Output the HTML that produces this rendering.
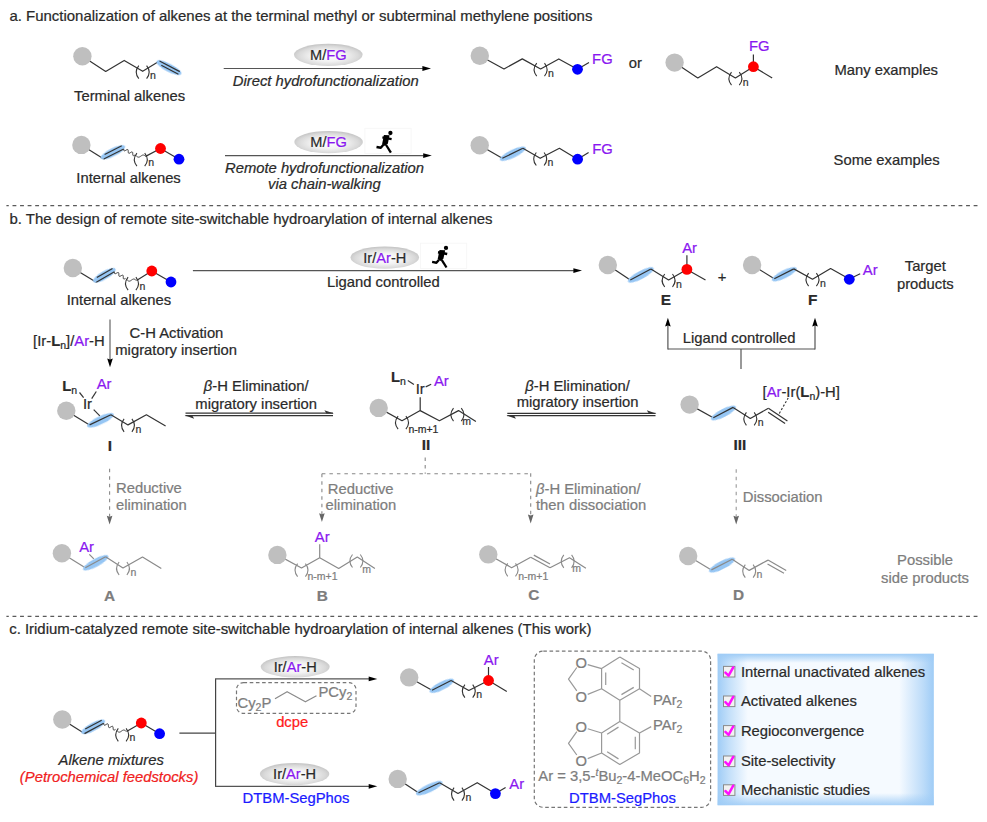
<!DOCTYPE html>
<html><head><meta charset="utf-8"><style>
html,body{margin:0;padding:0;background:#fff;}
svg{display:block;font-family:"Liberation Sans",sans-serif;}
text{stroke-width:0.22px;}
</style></head><body>
<svg width="987" height="822" viewBox="0 0 987 822">
<defs>
<radialGradient id="eg" cx="0.5" cy="0.55" r="0.55">
<stop offset="0" stop-color="#ffffff"/><stop offset="0.45" stop-color="#f2f2f2"/><stop offset="0.8" stop-color="#d9d9d9"/><stop offset="1" stop-color="#c2c2c2"/>
</radialGradient>
<linearGradient id="bgh" x1="0" y1="0" x2="1" y2="0">
<stop offset="0" stop-color="#9fccf6" stop-opacity="1"/><stop offset="0.05" stop-color="#9fccf6" stop-opacity="0.6"/><stop offset="0.14" stop-color="#9fccf6" stop-opacity="0"/>
<stop offset="0.84" stop-color="#9fccf6" stop-opacity="0"/><stop offset="0.95" stop-color="#9fccf6" stop-opacity="0.65"/><stop offset="1" stop-color="#9fccf6" stop-opacity="1"/>
</linearGradient>
<linearGradient id="bgv" x1="0" y1="0" x2="0" y2="1">
<stop offset="0" stop-color="#9fccf6" stop-opacity="1"/><stop offset="0.06" stop-color="#9fccf6" stop-opacity="0"/>
<stop offset="0.92" stop-color="#9fccf6" stop-opacity="0"/><stop offset="1" stop-color="#9fccf6" stop-opacity="0.9"/>
</linearGradient>
<filter id="blur" x="-20%" y="-50%" width="140%" height="200%"><feGaussianBlur stdDeviation="0.7"/></filter>
</defs>
<text x="9.5" y="20.9" font-size="14.95" fill="#2a2a2a" stroke="#2a2a2a">a. Functionalization of alkenes at the terminal methyl or subterminal methylene positions</text>
<polyline points="82.4,56.3 105.7,71.5 124.2,60.4 142.7,71.3 159.5,61" fill="none" stroke="#333" stroke-width="1.2" stroke-linejoin="round" stroke-linecap="butt"/>
<path d="M138.8 65.6 Q133.6 72.1 138.8 78.6" fill="none" stroke="#333" stroke-width="1.1"/>
<path d="M146.6 65.6 Q151.8 72.1 146.6 78.6" fill="none" stroke="#333" stroke-width="1.1"/>
<text x="150.1" y="79.3" font-size="10.5" fill="#333" stroke="#333">n</text>
<ellipse cx="168.96" cy="67.63" rx="13.85" ry="4" fill="#96c6f4" transform="rotate(27.57 168.96 67.63)" filter="url(#blur)"/>
<polyline points="159.5,61 179.8,71.6" fill="none" stroke="#333" stroke-width="1.2" stroke-linejoin="round" stroke-linecap="butt"/>
<polyline points="161.3,65.33 178.41,74.26" fill="none" stroke="#333" stroke-width="1.2" stroke-linejoin="round" stroke-linecap="butt"/>
<text x="74" y="100.7" font-size="14.8" fill="#2a2a2a" stroke="#2a2a2a">Terminal alkenes</text>
<ellipse cx="328.3" cy="54.8" rx="34.3" ry="11.1" fill="url(#eg)"/>
<text x="328.3" y="59.7" font-size="14.6" fill="#2a2a2a" stroke="#2a2a2a" text-anchor="middle">M/<tspan fill="#8a17f0" stroke="#8a17f0">FG</tspan></text>
<polyline points="223.7,68.5 422.9,68.5" fill="none" stroke="#555" stroke-width="1.2" stroke-linejoin="round" stroke-linecap="butt"/>
<path d="M431 68.5 L422.4 66.1 L422.4 70.9 Z" fill="#000"/>
<text x="325.7" y="86.1" font-size="14.8" fill="#2a2a2a" stroke="#2a2a2a" text-anchor="middle" font-style="italic">Direct hydrofunctionalization</text>
<polyline points="479.8,55.8 504,69 522.3,58.9 540.6,69 558.8,58.9 577.5,69.3 589,62.6" fill="none" stroke="#333" stroke-width="1.2" stroke-linejoin="round" stroke-linecap="butt"/>
<path d="M536.7 63.2 Q531.5 69.7 536.7 76.2" fill="none" stroke="#333" stroke-width="1.1"/>
<path d="M544.5 63.2 Q549.7 69.7 544.5 76.2" fill="none" stroke="#333" stroke-width="1.1"/>
<text x="548" y="76.9" font-size="10.5" fill="#333" stroke="#333">n</text>
<text x="592.1" y="64.3" font-size="14.8" fill="#8a17f0" stroke="#8a17f0">FG</text>
<text x="628.8" y="67.5" font-size="14.8" fill="#2a2a2a" stroke="#2a2a2a">or</text>
<polyline points="674.6,62.6 697.8,77.9 716.6,66.7 735.4,77.9 753.4,66.7 772.2,77.9" fill="none" stroke="#333" stroke-width="1.2" stroke-linejoin="round" stroke-linecap="butt"/>
<polyline points="753.4,66.7 753.4,54.5" fill="none" stroke="#333" stroke-width="1.2" stroke-linejoin="round" stroke-linecap="butt"/>
<path d="M731.5 72.1 Q726.3 78.6 731.5 85.1" fill="none" stroke="#333" stroke-width="1.1"/>
<path d="M739.3 72.1 Q744.5 78.6 739.3 85.1" fill="none" stroke="#333" stroke-width="1.1"/>
<text x="742.8" y="85.8" font-size="10.5" fill="#333" stroke="#333">n</text>
<text x="749" y="50.6" font-size="14.8" fill="#8a17f0" stroke="#8a17f0">FG</text>
<text x="834.4" y="75" font-size="14.8" fill="#2a2a2a" stroke="#2a2a2a">Many examples</text>
<polyline points="81.4,144.9 103.8,159" fill="none" stroke="#333" stroke-width="1.2" stroke-linejoin="round" stroke-linecap="butt"/>
<ellipse cx="112.92" cy="152.35" rx="13.54" ry="4" fill="#96c6f4" transform="rotate(-26.68 112.92 152.35)" filter="url(#blur)"/>
<polyline points="103.8,159 123.7,149" fill="none" stroke="#333" stroke-width="1.2" stroke-linejoin="round" stroke-linecap="butt"/>
<polyline points="104.64,154.44 121.77,145.83" fill="none" stroke="#333" stroke-width="1.2" stroke-linejoin="round" stroke-linecap="butt"/>
<polyline points="123.7,149 123.73,149.62 123.8,150.17 123.94,150.59 124.17,150.84 124.51,150.89 124.93,150.77 125.43,150.52 125.96,150.2 126.49,149.88 126.99,149.63 127.41,149.51 127.75,149.56 127.98,149.81 128.12,150.23 128.19,150.78 128.22,151.4 128.25,152.02 128.32,152.57 128.46,152.99 128.69,153.24 129.03,153.29 129.45,153.17 129.95,152.92 130.48,152.6 131.01,152.28 131.51,152.03 131.93,151.91 132.27,151.96 132.5,152.21 132.64,152.63 132.71,153.18 132.74,153.8 132.77,154.42 132.84,154.97 132.98,155.39 133.21,155.64 133.55,155.69 133.97,155.57 134.47,155.32 135,155" fill="none" stroke="#333" stroke-width="1"/>
<polyline points="136.2,155.8 136.42,156 136.65,156.2 136.87,156.39 137.1,156.56 137.32,156.72 137.55,156.86 137.78,156.97 138.01,157.06 138.24,157.12 138.47,157.15 138.71,157.15 138.95,157.12 139.19,157.06 139.43,156.98 139.67,156.87 139.92,156.74 140.16,156.6 140.41,156.44 140.65,156.27 140.9,156.1 141.15,155.93 141.39,155.76 141.64,155.6 141.88,155.46 142.13,155.33 142.37,155.22 142.61,155.14 142.85,155.08 143.09,155.05 143.33,155.05 143.56,155.08 143.79,155.14 144.02,155.23 144.25,155.34 144.48,155.48 144.7,155.64 144.93,155.81 145.15,156 145.38,156.2 145.6,156.4" fill="none" stroke="#333" stroke-width="1"/>
<polyline points="145.6,156.4 160.5,148.5 179,159.2" fill="none" stroke="#333" stroke-width="1.2" stroke-linejoin="round" stroke-linecap="butt"/>
<path d="M136.9 153.2 Q131.7 159.7 136.9 166.2" fill="none" stroke="#333" stroke-width="1.1"/>
<path d="M144.7 153.2 Q149.9 159.7 144.7 166.2" fill="none" stroke="#333" stroke-width="1.1"/>
<text x="148.3" y="166.4" font-size="10.5" fill="#333" stroke="#333">n</text>
<text x="76.3" y="182.6" font-size="14.8" fill="#2a2a2a" stroke="#2a2a2a">Internal alkenes</text>
<ellipse cx="328.6" cy="142.1" rx="34.3" ry="11.1" fill="url(#eg)"/>
<text x="328.6" y="147" font-size="14.6" fill="#2a2a2a" stroke="#2a2a2a" text-anchor="middle">M/<tspan fill="#8a17f0" stroke="#8a17f0">FG</tspan></text>
<rect x="364.9" y="128.3" width="46.2" height="25.2" fill="none" stroke="#f6f6f6" stroke-width="0.8"/>
<circle cx="390.4" cy="133" r="2.15" fill="#000"/>
<path d="M383.9 135.0 L389.59999999999997 135.3 L387.79999999999995 143.8 L385.0 146.0 L382.09999999999997 144.2 Z" fill="#000"/>
<polyline points="382.4,137.4 391.6,139.1" fill="none" stroke="#000" stroke-width="2.4" stroke-linejoin="round" stroke-linecap="butt" stroke-linecap="round"/>
<polyline points="383.4,144.8 380.8,147.8 376.5,147" fill="none" stroke="#000" stroke-width="2.4" stroke-linejoin="round" stroke-linecap="butt" stroke-linecap="round" stroke-linejoin="round"/>
<polyline points="386.1,145 390.9,152.6" fill="none" stroke="#000" stroke-width="2.3" stroke-linejoin="round" stroke-linecap="butt" stroke-linecap="round"/>
<polyline points="225,155.6 423.7,155.6" fill="none" stroke="#555" stroke-width="1.2" stroke-linejoin="round" stroke-linecap="butt"/>
<path d="M431.8 155.6 L423.2 153.2 L423.2 158 Z" fill="#000"/>
<text x="324.5" y="172.6" font-size="14.8" fill="#2a2a2a" stroke="#2a2a2a" text-anchor="middle" font-style="italic">Remote hydrofunctionalization</text>
<text x="324.4" y="188.6" font-size="14.8" fill="#2a2a2a" stroke="#2a2a2a" text-anchor="middle" font-style="italic">via chain-walking</text>
<polyline points="479.7,145.2 502.3,158.3" fill="none" stroke="#333" stroke-width="1.2" stroke-linejoin="round" stroke-linecap="butt"/>
<ellipse cx="512.82" cy="153.75" rx="14.25" ry="4" fill="#96c6f4" transform="rotate(-25.89 512.82 153.75)" filter="url(#blur)"/>
<polyline points="502.3,158.3 522.9,148.3" fill="none" stroke="#333" stroke-width="1.2" stroke-linejoin="round" stroke-linecap="butt"/>
<polyline points="522.9,148.3 540.2,158.3 559.4,148.3 577.6,159.2 588.6,152.5" fill="none" stroke="#333" stroke-width="1.2" stroke-linejoin="round" stroke-linecap="butt"/>
<path d="M536.3 152.5 Q531.1 159 536.3 165.5" fill="none" stroke="#333" stroke-width="1.1"/>
<path d="M544.1 152.5 Q549.3 159 544.1 165.5" fill="none" stroke="#333" stroke-width="1.1"/>
<text x="547.6" y="166.2" font-size="10.5" fill="#333" stroke="#333">n</text>
<text x="592.2" y="153.9" font-size="14.8" fill="#8a17f0" stroke="#8a17f0">FG</text>
<text x="833.6" y="165" font-size="14.8" fill="#2a2a2a" stroke="#2a2a2a">Some examples</text>
<line x1="6.4" y1="205.6" x2="977.6" y2="205.6" stroke="#5a5a5a" stroke-width="1.3" stroke-dasharray="3.85 3.718" stroke-dashoffset="1.47"/>
<text x="9.5" y="223.5" font-size="14.95" fill="#2a2a2a" stroke="#2a2a2a">b. The design of remote site-switchable hydroarylation of internal alkenes</text>
<polyline points="72.8,268 96.3,282.2" fill="none" stroke="#333" stroke-width="1.2" stroke-linejoin="round" stroke-linecap="butt"/>
<ellipse cx="104.4" cy="275.35" rx="12.84" ry="4" fill="#96c6f4" transform="rotate(-29.88 104.4 275.35)" filter="url(#blur)"/>
<polyline points="96.3,282.2 114.4,271.8" fill="none" stroke="#333" stroke-width="1.2" stroke-linejoin="round" stroke-linecap="butt"/>
<polyline points="96.83,277.51 112.51,268.51" fill="none" stroke="#333" stroke-width="1.2" stroke-linejoin="round" stroke-linecap="butt"/>
<polyline points="114.4,271.8 114.4,272.43 114.45,272.98 114.57,273.41 114.79,273.66 115.13,273.74 115.56,273.64 116.07,273.42 116.62,273.12 117.17,272.82 117.68,272.6 118.11,272.5 118.45,272.58 118.67,272.83 118.79,273.26 118.84,273.81 118.84,274.44 118.84,275.07 118.89,275.62 119.01,276.05 119.23,276.3 119.57,276.38 120,276.28 120.51,276.06 121.06,275.76 121.61,275.46 122.12,275.24 122.55,275.14 122.89,275.22 123.11,275.47 123.23,275.9 123.28,276.45 123.28,277.08 123.28,277.71 123.33,278.26 123.45,278.69 123.67,278.94 124.01,279.02 124.44,278.92 124.95,278.7 125.5,278.4" fill="none" stroke="#333" stroke-width="1"/>
<polyline points="127,279.8 127.21,280 127.43,280.2 127.64,280.39 127.85,280.56 128.07,280.72 128.29,280.86 128.5,280.97 128.72,281.06 128.95,281.12 129.17,281.15 129.4,281.15 129.62,281.12 129.85,281.06 130.09,280.98 130.32,280.87 130.55,280.74 130.79,280.6 131.03,280.44 131.26,280.27 131.5,280.1 131.74,279.93 131.97,279.76 132.21,279.6 132.45,279.46 132.68,279.33 132.91,279.22 133.15,279.14 133.38,279.08 133.6,279.05 133.83,279.05 134.05,279.08 134.28,279.14 134.5,279.23 134.71,279.34 134.93,279.48 135.15,279.64 135.36,279.81 135.57,280 135.79,280.2 136,280.4" fill="none" stroke="#333" stroke-width="1"/>
<polyline points="136.5,280.4 151.8,271 171,282" fill="none" stroke="#333" stroke-width="1.2" stroke-linejoin="round" stroke-linecap="butt"/>
<path d="M128.1 277.1 Q122.9 283.6 128.1 290.1" fill="none" stroke="#333" stroke-width="1.1"/>
<path d="M135.9 277.1 Q141.1 283.6 135.9 290.1" fill="none" stroke="#333" stroke-width="1.1"/>
<text x="139.5" y="290" font-size="10.5" fill="#333" stroke="#333">n</text>
<text x="66.7" y="305" font-size="14.8" fill="#2a2a2a" stroke="#2a2a2a">Internal alkenes</text>
<ellipse cx="384.8" cy="257.6" rx="34.3" ry="11.1" fill="url(#eg)"/>
<text x="384.8" y="262.5" font-size="14.6" fill="#2a2a2a" stroke="#2a2a2a" text-anchor="middle">Ir/<tspan fill="#8a17f0" stroke="#8a17f0">Ar</tspan>-H</text>
<rect x="420.5" y="243.2" width="46.2" height="25.2" fill="none" stroke="#f6f6f6" stroke-width="0.8"/>
<circle cx="446" cy="247.9" r="2.15" fill="#000"/>
<path d="M439.5 249.9 L445.2 250.20000000000002 L443.4 258.7 L440.6 260.9 L437.7 259.1 Z" fill="#000"/>
<polyline points="438,252.3 447.2,254" fill="none" stroke="#000" stroke-width="2.4" stroke-linejoin="round" stroke-linecap="butt" stroke-linecap="round"/>
<polyline points="439,259.7 436.4,262.7 432.1,261.9" fill="none" stroke="#000" stroke-width="2.4" stroke-linejoin="round" stroke-linecap="butt" stroke-linecap="round" stroke-linejoin="round"/>
<polyline points="441.7,259.9 446.5,267.5" fill="none" stroke="#000" stroke-width="2.3" stroke-linejoin="round" stroke-linecap="butt" stroke-linecap="round"/>
<polyline points="192.9,270.6 573.9,270.6" fill="none" stroke="#555" stroke-width="1.2" stroke-linejoin="round" stroke-linecap="butt"/>
<path d="M582 270.6 L573.4 268.2 L573.4 273 Z" fill="#000"/>
<text x="383.4" y="286.8" font-size="14.8" fill="#2a2a2a" stroke="#2a2a2a" text-anchor="middle">Ligand controlled</text>
<polyline points="607.8,265 630.3,280" fill="none" stroke="#333" stroke-width="1.2" stroke-linejoin="round" stroke-linecap="butt"/>
<ellipse cx="640.84" cy="274.94" rx="14.48" ry="4" fill="#96c6f4" transform="rotate(-28.1 640.84 274.94)" filter="url(#blur)"/>
<polyline points="630.3,280 650.9,269" fill="none" stroke="#333" stroke-width="1.2" stroke-linejoin="round" stroke-linecap="butt"/>
<polyline points="650.9,269 668.6,280 686.9,269.4 705.5,280" fill="none" stroke="#333" stroke-width="1.2" stroke-linejoin="round" stroke-linecap="butt"/>
<polyline points="686.9,269.4 686.9,255.3" fill="none" stroke="#333" stroke-width="1.2" stroke-linejoin="round" stroke-linecap="butt"/>
<path d="M664.7 274 Q659.5 280.5 664.7 287" fill="none" stroke="#333" stroke-width="1.1"/>
<path d="M672.5 274 Q677.7 280.5 672.5 287" fill="none" stroke="#333" stroke-width="1.1"/>
<text x="676" y="287.7" font-size="10.5" fill="#333" stroke="#333">n</text>
<text x="682.2" y="252.8" font-size="14.8" fill="#8a17f0" stroke="#8a17f0">Ar</text>
<text x="722" y="281.5" font-size="14.8" fill="#2a2a2a" stroke="#2a2a2a" text-anchor="middle">+</text>
<text x="666" y="305" font-size="15.4" fill="#2a2a2a" stroke="#2a2a2a" text-anchor="middle" font-weight="bold">E</text>
<polyline points="752.1,265 774.3,278.7" fill="none" stroke="#333" stroke-width="1.2" stroke-linejoin="round" stroke-linecap="butt"/>
<ellipse cx="784.27" cy="274.25" rx="13.71" ry="4" fill="#96c6f4" transform="rotate(-26.68 784.27 274.25)" filter="url(#blur)"/>
<polyline points="774.3,278.7 793.8,268.9" fill="none" stroke="#333" stroke-width="1.2" stroke-linejoin="round" stroke-linecap="butt"/>
<polyline points="793.8,268.9 812.5,279.2 830.6,268.6 849.3,279 860.2,273.8" fill="none" stroke="#333" stroke-width="1.2" stroke-linejoin="round" stroke-linecap="butt"/>
<path d="M808.6 273.2 Q803.4 279.7 808.6 286.2" fill="none" stroke="#333" stroke-width="1.1"/>
<path d="M816.4 273.2 Q821.6 279.7 816.4 286.2" fill="none" stroke="#333" stroke-width="1.1"/>
<text x="819.9" y="286.9" font-size="10.5" fill="#333" stroke="#333">n</text>
<text x="862.8" y="275" font-size="14.8" fill="#8a17f0" stroke="#8a17f0">Ar</text>
<text x="812.8" y="305.3" font-size="15.4" fill="#2a2a2a" stroke="#2a2a2a" text-anchor="middle" font-weight="bold">F</text>
<text x="925.3" y="271" font-size="14.8" fill="#2a2a2a" stroke="#2a2a2a" text-anchor="middle">Target</text>
<text x="925.3" y="288.6" font-size="14.8" fill="#2a2a2a" stroke="#2a2a2a" text-anchor="middle">products</text>
<polyline points="667.9,349 815,349" fill="none" stroke="#555" stroke-width="1.2" stroke-linejoin="round" stroke-linecap="butt"/>
<polyline points="741,349 741,369" fill="none" stroke="#555" stroke-width="1.2" stroke-linejoin="round" stroke-linecap="butt"/>
<polyline points="667.9,349.6 667.9,325.6" fill="none" stroke="#555" stroke-width="1.2" stroke-linejoin="round" stroke-linecap="butt"/>
<path d="M667.9 317.8 L665.1 326.6 L667.9 325.6 L670.7 326.6 Z" fill="#000"/>
<polyline points="815,349.6 815,325.6" fill="none" stroke="#555" stroke-width="1.2" stroke-linejoin="round" stroke-linecap="butt"/>
<path d="M815 317.8 L812.2 326.6 L815 325.6 L817.8 326.6 Z" fill="#000"/>
<text x="739.2" y="343.4" font-size="14.8" fill="#2a2a2a" stroke="#2a2a2a" text-anchor="middle">Ligand controlled</text>
<polyline points="110,319.6 110,359.4" fill="none" stroke="#666" stroke-width="1.2" stroke-linejoin="round" stroke-linecap="butt"/>
<path d="M110 367.2 L107.2 358.4 L110 359.4 L112.8 358.4 Z" fill="#000"/>
<text x="104.7" y="346.1" font-size="14.8" fill="#2a2a2a" stroke="#2a2a2a" text-anchor="end">[Ir-<tspan font-weight="bold">L</tspan><tspan font-size="10.5" baseline-shift="-3.2">n</tspan>]/<tspan fill="#8a17f0" stroke="#8a17f0">Ar</tspan>-H</text>
<text x="129.6" y="338.4" font-size="14.8" fill="#2a2a2a" stroke="#2a2a2a">C-H Activation</text>
<text x="115.3" y="355.3" font-size="14.8" fill="#2a2a2a" stroke="#2a2a2a">migratory insertion</text>
<polyline points="66.3,410.7 89.6,424.9" fill="none" stroke="#333" stroke-width="1.2" stroke-linejoin="round" stroke-linecap="butt"/>
<ellipse cx="100.46" cy="420.3" rx="14.59" ry="4" fill="#96c6f4" transform="rotate(-25.37 100.46 420.3)" filter="url(#blur)"/>
<polyline points="89.6,424.9 110.9,414.8" fill="none" stroke="#333" stroke-width="1.2" stroke-linejoin="round" stroke-linecap="butt"/>
<polyline points="110.9,414.8 128,424.9 146.4,414.8 165.6,425.9" fill="none" stroke="#333" stroke-width="1.2" stroke-linejoin="round" stroke-linecap="butt"/>
<path d="M124.1 418.9 Q118.9 425.4 124.1 431.9" fill="none" stroke="#333" stroke-width="1.1"/>
<path d="M131.9 418.9 Q137.1 425.4 131.9 431.9" fill="none" stroke="#333" stroke-width="1.1"/>
<text x="135.4" y="432.6" font-size="10.5" fill="#333" stroke="#333">n</text>
<polyline points="93.7,409.7 99.8,415.8" fill="none" stroke="#333" stroke-width="1.2" stroke-linejoin="round" stroke-linecap="butt"/>
<polyline points="79.5,392.5 83.6,397.6" fill="none" stroke="#333" stroke-width="1.2" stroke-linejoin="round" stroke-linecap="butt"/>
<polyline points="96.3,391.5 91.7,398.6" fill="none" stroke="#333" stroke-width="1.2" stroke-linejoin="round" stroke-linecap="butt"/>
<text x="83" y="408.7" font-size="14.8" fill="#2a2a2a" stroke="#2a2a2a">Ir</text>
<text x="62.3" y="390.5" font-size="14.8" fill="#2a2a2a" stroke="#2a2a2a"><tspan font-weight="bold">L</tspan><tspan font-size="10.5" baseline-shift="-3.2">n</tspan></text>
<text x="96.7" y="389.4" font-size="14.8" fill="#8a17f0" stroke="#8a17f0">Ar</text>
<text x="109.9" y="450.6" font-size="15.4" fill="#2a2a2a" stroke="#2a2a2a" text-anchor="middle" font-weight="bold">I</text>
<polyline points="185.5,413.2 333,413.2" fill="none" stroke="#333" stroke-width="1.2" stroke-linejoin="round" stroke-linecap="butt"/>
<path d="M334 413.6 L324.4 410.2 L326.4 413.6 Z" fill="#333"/>
<polyline points="185.5,415.7 333,415.7" fill="none" stroke="#333" stroke-width="1.2" stroke-linejoin="round" stroke-linecap="butt"/>
<path d="M184.5 415.3 L194.1 418.7 L192.1 415.3 Z" fill="#333"/>
<text x="256.2" y="391.1" font-size="14.8" fill="#2a2a2a" stroke="#2a2a2a" text-anchor="middle"><tspan font-style="italic">&#946;</tspan>-H Elimination/</text>
<text x="256.2" y="408.5" font-size="14.8" fill="#2a2a2a" stroke="#2a2a2a" text-anchor="middle">migratory insertion</text>
<polyline points="378.7,407.9 402,420.7 420.2,410.6 439.4,420.7 458.5,410.6 475.9,421.6" fill="none" stroke="#333" stroke-width="1.2" stroke-linejoin="round" stroke-linecap="butt"/>
<path d="M398.1 416.2 Q392.9 422.7 398.1 429.2" fill="none" stroke="#333" stroke-width="1.1"/>
<path d="M405.9 416.2 Q411.1 422.7 405.9 429.2" fill="none" stroke="#333" stroke-width="1.1"/>
<text x="408.4" y="433.2" font-size="10.5" fill="#2a2a2a" stroke="#2a2a2a">n-m+1</text>
<path d="M453.5 408.2 Q448.3 414.7 453.5 421.2" fill="none" stroke="#333" stroke-width="1.1"/>
<path d="M461.3 408.2 Q466.5 414.7 461.3 421.2" fill="none" stroke="#333" stroke-width="1.1"/>
<text x="462.3" y="425.3" font-size="10.5" fill="#333" stroke="#333">m</text>
<polyline points="420.2,410.6 420.2,397.3" fill="none" stroke="#333" stroke-width="1.2" stroke-linejoin="round" stroke-linecap="butt"/>
<text x="420.2" y="394.2" font-size="14.8" fill="#2a2a2a" stroke="#2a2a2a" text-anchor="middle">Ir</text>
<text x="391" y="382.4" font-size="14.8" fill="#2a2a2a" stroke="#2a2a2a"><tspan font-weight="bold">L</tspan><tspan font-size="10.5" baseline-shift="-3.2">n</tspan></text>
<text x="433.9" y="386" font-size="14.8" fill="#8a17f0" stroke="#8a17f0">Ar</text>
<polyline points="407.8,380.5 413.9,384.5" fill="none" stroke="#333" stroke-width="1.2" stroke-linejoin="round" stroke-linecap="butt"/>
<polyline points="425.7,386.9 431.2,384.2" fill="none" stroke="#333" stroke-width="1.2" stroke-linejoin="round" stroke-linecap="butt"/>
<text x="426.1" y="450.3" font-size="15.4" fill="#2a2a2a" stroke="#2a2a2a" text-anchor="middle" font-weight="bold">II</text>
<polyline points="507.3,413.3 655.5,413.3" fill="none" stroke="#333" stroke-width="1.2" stroke-linejoin="round" stroke-linecap="butt"/>
<path d="M656.5 413.7 L646.9 410.3 L648.9 413.7 Z" fill="#333"/>
<polyline points="507.3,415.7 655.5,415.7" fill="none" stroke="#333" stroke-width="1.2" stroke-linejoin="round" stroke-linecap="butt"/>
<path d="M506.3 415.3 L515.9 418.7 L513.9 415.3 Z" fill="#333"/>
<text x="577.6" y="390.5" font-size="14.8" fill="#2a2a2a" stroke="#2a2a2a" text-anchor="middle"><tspan font-style="italic">&#946;</tspan>-H Elimination/</text>
<text x="577.6" y="407" font-size="14.8" fill="#2a2a2a" stroke="#2a2a2a" text-anchor="middle">migratory insertion</text>
<polyline points="689.6,404.6 713.3,417.7" fill="none" stroke="#333" stroke-width="1.2" stroke-linejoin="round" stroke-linecap="butt"/>
<ellipse cx="723.43" cy="412.99" rx="13.96" ry="4" fill="#96c6f4" transform="rotate(-27.48 723.43 412.99)" filter="url(#blur)"/>
<polyline points="713.3,417.7 733.1,407.4" fill="none" stroke="#333" stroke-width="1.2" stroke-linejoin="round" stroke-linecap="butt"/>
<polyline points="733.1,407.4 750.3,418.4 768.4,408.3" fill="none" stroke="#333" stroke-width="1.2" stroke-linejoin="round" stroke-linecap="butt"/>
<path d="M746.4 412.4 Q741.2 418.9 746.4 425.4" fill="none" stroke="#333" stroke-width="1.1"/>
<path d="M754.2 412.4 Q759.4 418.9 754.2 425.4" fill="none" stroke="#333" stroke-width="1.1"/>
<text x="757.7" y="426.1" font-size="10.5" fill="#333" stroke="#333">n</text>
<polyline points="768.4,408.3 787.4,421" fill="none" stroke="#333" stroke-width="1.2" stroke-linejoin="round" stroke-linecap="butt"/>
<polyline points="768.17,412.24 785.09,423.55" fill="none" stroke="#333" stroke-width="1.2" stroke-linejoin="round" stroke-linecap="butt"/>
<polyline points="779.3,413.5 788.2,397.9" fill="none" stroke="#333" stroke-width="1.1" stroke-linejoin="round" stroke-linecap="butt" stroke-dasharray="2.2 1.8"/>
<text x="762.5" y="396.7" font-size="14.8" fill="#2a2a2a" stroke="#2a2a2a">[<tspan fill="#8a17f0" stroke="#8a17f0">Ar</tspan>-Ir(<tspan font-weight="bold">L</tspan><tspan font-size="10.5" baseline-shift="-3.2">n</tspan>)-H]</text>
<text x="739.8" y="449.9" font-size="15.4" fill="#2a2a2a" stroke="#2a2a2a" text-anchor="middle" font-weight="bold">III</text>
<polyline points="109.6,468.8 109.6,516.7" fill="none" stroke="#888" stroke-width="1.1" stroke-linejoin="round" stroke-linecap="butt" stroke-dasharray="3.5 4"/>
<path d="M109.6 524.5 L106.8 515.7 L109.6 516.7 L112.4 515.7 Z" fill="#666"/>
<text x="116" y="493.2" font-size="14.8" fill="#7d7d7d" stroke="#7d7d7d">Reductive</text>
<text x="116" y="510.2" font-size="14.8" fill="#7d7d7d" stroke="#7d7d7d">elimination</text>
<polyline points="61.9,553.3 85.3,567.8" fill="none" stroke="#8a8a8a" stroke-width="1.2" stroke-linejoin="round" stroke-linecap="butt"/>
<ellipse cx="95.69" cy="562.74" rx="14.34" ry="4" fill="#96c6f4" transform="rotate(-28.45 95.69 562.74)" filter="url(#blur)"/>
<polyline points="85.3,567.8 105.6,556.8" fill="none" stroke="#8a8a8a" stroke-width="1.2" stroke-linejoin="round" stroke-linecap="butt"/>
<polyline points="105.6,556.8 123,568 142.5,557 161.3,568.5" fill="none" stroke="#8a8a8a" stroke-width="1.2" stroke-linejoin="round" stroke-linecap="butt"/>
<path d="M119.1 562 Q113.9 568.5 119.1 575" fill="none" stroke="#8a8a8a" stroke-width="1.1"/>
<path d="M126.9 562 Q132.1 568.5 126.9 575" fill="none" stroke="#8a8a8a" stroke-width="1.1"/>
<text x="130.4" y="575.7" font-size="10.5" fill="#7d7d7d" stroke="#7d7d7d">n</text>
<polyline points="89.3,554.3 93.8,558.8" fill="none" stroke="#8a8a8a" stroke-width="1.2" stroke-linejoin="round" stroke-linecap="butt"/>
<text x="79.2" y="551.8" font-size="14.8" fill="#8a17f0" stroke="#8a17f0">Ar</text>
<text x="109.6" y="600.7" font-size="15.4" fill="#7d7d7d" stroke="#7d7d7d" text-anchor="middle" font-weight="bold">A</text>
<polyline points="425.2,457.4 425.2,473.8" fill="none" stroke="#888" stroke-width="1.1" stroke-linejoin="round" stroke-linecap="butt" stroke-dasharray="3.5 4"/>
<polyline points="321.9,473.8 530.7,473.8" fill="none" stroke="#888" stroke-width="1.1" stroke-linejoin="round" stroke-linecap="butt" stroke-dasharray="3.5 4"/>
<polyline points="321.9,473.8 321.9,514.2" fill="none" stroke="#888" stroke-width="1.1" stroke-linejoin="round" stroke-linecap="butt" stroke-dasharray="3.5 4"/>
<path d="M321.9 522 L319.1 513.2 L321.9 514.2 L324.7 513.2 Z" fill="#666"/>
<polyline points="530.7,473.3 530.7,515.6" fill="none" stroke="#888" stroke-width="1.1" stroke-linejoin="round" stroke-linecap="butt" stroke-dasharray="3.5 4"/>
<path d="M530.7 523.4 L527.9 514.6 L530.7 515.6 L533.5 514.6 Z" fill="#666"/>
<text x="327.8" y="493.5" font-size="14.8" fill="#7d7d7d" stroke="#7d7d7d">Reductive</text>
<text x="325.6" y="510" font-size="14.8" fill="#7d7d7d" stroke="#7d7d7d">elimination</text>
<text x="536" y="493.8" font-size="14.8" fill="#7d7d7d" stroke="#7d7d7d"><tspan font-style="italic">&#946;</tspan>-H Elimination/</text>
<text x="536" y="510.1" font-size="14.8" fill="#7d7d7d" stroke="#7d7d7d">then dissociation</text>
<polyline points="277.4,554.9 301.5,568 319.7,557.7 338.7,568.4 357.3,557 374.9,568.4" fill="none" stroke="#8a8a8a" stroke-width="1.2" stroke-linejoin="round" stroke-linecap="butt"/>
<polyline points="319.7,557.7 319.7,544.3" fill="none" stroke="#8a8a8a" stroke-width="1.2" stroke-linejoin="round" stroke-linecap="butt"/>
<path d="M297.6 563.6 Q292.4 570.1 297.6 576.6" fill="none" stroke="#8a8a8a" stroke-width="1.1"/>
<path d="M305.4 563.6 Q310.6 570.1 305.4 576.6" fill="none" stroke="#8a8a8a" stroke-width="1.1"/>
<text x="307.5" y="580" font-size="10.5" fill="#7d7d7d" stroke="#7d7d7d">n-m+1</text>
<path d="M352.5 554.5 Q347.3 561 352.5 567.5" fill="none" stroke="#8a8a8a" stroke-width="1.1"/>
<path d="M360.3 554.5 Q365.5 561 360.3 567.5" fill="none" stroke="#8a8a8a" stroke-width="1.1"/>
<text x="362.3" y="572.5" font-size="10.5" fill="#7d7d7d" stroke="#7d7d7d">m</text>
<text x="314.8" y="541.7" font-size="14.8" fill="#8a17f0" stroke="#8a17f0">Ar</text>
<text x="322.3" y="600.6" font-size="15.4" fill="#7d7d7d" stroke="#7d7d7d" text-anchor="middle" font-weight="bold">B</text>
<polyline points="488.3,554.4 511.6,567.7 530.7,557.2" fill="none" stroke="#8a8a8a" stroke-width="1.2" stroke-linejoin="round" stroke-linecap="butt"/>
<polyline points="530.7,557.2 550,567.7" fill="none" stroke="#8a8a8a" stroke-width="1.2" stroke-linejoin="round" stroke-linecap="butt"/>
<polyline points="533.82,555.14 550.03,563.96" fill="none" stroke="#8a8a8a" stroke-width="1.2" stroke-linejoin="round" stroke-linecap="butt"/>
<polyline points="550,567.7 569.5,557.8 585.9,568.2" fill="none" stroke="#8a8a8a" stroke-width="1.2" stroke-linejoin="round" stroke-linecap="butt"/>
<path d="M507.7 563.3 Q502.5 569.8 507.7 576.3" fill="none" stroke="#8a8a8a" stroke-width="1.1"/>
<path d="M515.5 563.3 Q520.7 569.8 515.5 576.3" fill="none" stroke="#8a8a8a" stroke-width="1.1"/>
<text x="518.2" y="580.1" font-size="10.5" fill="#7d7d7d" stroke="#7d7d7d">n-m+1</text>
<path d="M563.8 554.8 Q558.6 561.3 563.8 567.8" fill="none" stroke="#8a8a8a" stroke-width="1.1"/>
<path d="M571.6 554.8 Q576.8 561.3 571.6 567.8" fill="none" stroke="#8a8a8a" stroke-width="1.1"/>
<text x="572.3" y="572.2" font-size="10.5" fill="#7d7d7d" stroke="#7d7d7d">m</text>
<text x="533.7" y="600.1" font-size="15.4" fill="#7d7d7d" stroke="#7d7d7d" text-anchor="middle" font-weight="bold">C</text>
<polyline points="736.2,469.2 736.2,516.7" fill="none" stroke="#999" stroke-width="1.1" stroke-linejoin="round" stroke-linecap="butt" stroke-dasharray="3.5 4"/>
<path d="M736.2 524.5 L733.4 515.7 L736.2 516.7 L739 515.7 Z" fill="#666"/>
<text x="742.8" y="502" font-size="14.8" fill="#7d7d7d" stroke="#7d7d7d">Dissociation</text>
<polyline points="688.2,556 711.4,569.9" fill="none" stroke="#8a8a8a" stroke-width="1.2" stroke-linejoin="round" stroke-linecap="butt"/>
<ellipse cx="722.03" cy="565.05" rx="14.47" ry="4" fill="#96c6f4" transform="rotate(-27 722.03 565.05)" filter="url(#blur)"/>
<polyline points="711.4,569.9 732.2,559.3" fill="none" stroke="#8a8a8a" stroke-width="1.2" stroke-linejoin="round" stroke-linecap="butt"/>
<polyline points="732.2,559.3 749.2,570.4 768,560.1" fill="none" stroke="#8a8a8a" stroke-width="1.2" stroke-linejoin="round" stroke-linecap="butt"/>
<path d="M745.3 564.6 Q740.1 571.1 745.3 577.6" fill="none" stroke="#8a8a8a" stroke-width="1.1"/>
<path d="M753.1 564.6 Q758.3 571.1 753.1 577.6" fill="none" stroke="#8a8a8a" stroke-width="1.1"/>
<text x="756.6" y="578.3" font-size="10.5" fill="#7d7d7d" stroke="#7d7d7d">n</text>
<polyline points="768,560.1 786.2,570.4" fill="none" stroke="#8a8a8a" stroke-width="1.2" stroke-linejoin="round" stroke-linecap="butt"/>
<polyline points="767.53,563.97 783.99,573.29" fill="none" stroke="#8a8a8a" stroke-width="1.2" stroke-linejoin="round" stroke-linecap="butt"/>
<text x="738.5" y="600.4" font-size="15.4" fill="#7d7d7d" stroke="#7d7d7d" text-anchor="middle" font-weight="bold">D</text>
<text x="925" y="565.2" font-size="14.8" fill="#7d7d7d" stroke="#7d7d7d" text-anchor="middle">Possible</text>
<text x="925" y="582.5" font-size="14.8" fill="#7d7d7d" stroke="#7d7d7d" text-anchor="middle">side products</text>
<line x1="6.4" y1="616.3" x2="977.6" y2="616.3" stroke="#5a5a5a" stroke-width="1.3" stroke-dasharray="3.85 3.718" stroke-dashoffset="1.47"/>
<text x="9.2" y="634.2" font-size="14.93" fill="#2a2a2a" stroke="#2a2a2a">c. Iridium-catalyzed remote site-switchable hydroarylation of internal alkenes (This work)</text>
<polyline points="62.3,719.5 84.5,733.6" fill="none" stroke="#333" stroke-width="1.2" stroke-linejoin="round" stroke-linecap="butt"/>
<ellipse cx="93.23" cy="726.82" rx="13.29" ry="4" fill="#96c6f4" transform="rotate(-28.21 93.23 726.82)" filter="url(#blur)"/>
<polyline points="84.5,733.6 103.7,723.3" fill="none" stroke="#333" stroke-width="1.2" stroke-linejoin="round" stroke-linecap="butt"/>
<polyline points="85.22,729.02 101.69,720.18" fill="none" stroke="#333" stroke-width="1.2" stroke-linejoin="round" stroke-linecap="butt"/>
<polyline points="103.7,723.3 103.75,723.93 103.84,724.48 103.99,724.91 104.24,725.15 104.58,725.21 105.02,725.09 105.52,724.84 106.06,724.52 106.6,724.2 107.1,723.95 107.54,723.83 107.88,723.89 108.13,724.13 108.28,724.56 108.37,725.11 108.42,725.74 108.47,726.37 108.56,726.92 108.71,727.35 108.96,727.59 109.3,727.65 109.74,727.53 110.24,727.28 110.78,726.96 111.32,726.64 111.82,726.39 112.26,726.27 112.6,726.33 112.85,726.57 113,727 113.09,727.55 113.14,728.18 113.19,728.81 113.28,729.36 113.43,729.79 113.68,730.03 114.02,730.09 114.46,729.97 114.96,729.72 115.5,729.4" fill="none" stroke="#333" stroke-width="1"/>
<polyline points="117,730.8 117.21,731 117.43,731.2 117.64,731.39 117.85,731.56 118.07,731.72 118.29,731.86 118.5,731.97 118.72,732.06 118.95,732.12 119.17,732.15 119.4,732.15 119.62,732.12 119.85,732.06 120.09,731.98 120.32,731.87 120.55,731.74 120.79,731.6 121.03,731.44 121.26,731.27 121.5,731.1 121.74,730.93 121.97,730.76 122.21,730.6 122.45,730.46 122.68,730.33 122.91,730.22 123.15,730.14 123.38,730.08 123.6,730.05 123.83,730.05 124.05,730.08 124.28,730.14 124.5,730.23 124.71,730.34 124.93,730.48 125.15,730.64 125.36,730.81 125.57,731 125.79,731.2 126,731.4" fill="none" stroke="#333" stroke-width="1"/>
<polyline points="126.5,731.4 141.3,723 159.6,733.7" fill="none" stroke="#333" stroke-width="1.2" stroke-linejoin="round" stroke-linecap="butt"/>
<path d="M118.3 728.4 Q113.1 734.9 118.3 741.4" fill="none" stroke="#333" stroke-width="1.1"/>
<path d="M126.1 728.4 Q131.3 734.9 126.1 741.4" fill="none" stroke="#333" stroke-width="1.1"/>
<text x="129.4" y="741" font-size="10.5" fill="#333" stroke="#333">n</text>
<text x="111.2" y="764.8" font-size="14.8" fill="#2a2a2a" stroke="#2a2a2a" text-anchor="middle" font-style="italic">Alkene mixtures</text>
<text x="109.1" y="782" font-size="14.8" fill="#f02020" stroke="#f02020" text-anchor="middle" font-style="italic">(Petrochemical feedstocks)</text>
<polyline points="179.4,733.1 215.6,733.1" fill="none" stroke="#444" stroke-width="1.2" stroke-linejoin="round" stroke-linecap="butt"/>
<polyline points="215.6,678.9 215.6,786.3" fill="none" stroke="#444" stroke-width="1.2" stroke-linejoin="round" stroke-linecap="butt"/>
<polyline points="215,678.9 369.2,678.9" fill="none" stroke="#555" stroke-width="1.2" stroke-linejoin="round" stroke-linecap="butt"/>
<path d="M377.3 678.9 L368.7 676.5 L368.7 681.3 Z" fill="#000"/>
<polyline points="215,786.3 369.2,786.3" fill="none" stroke="#555" stroke-width="1.2" stroke-linejoin="round" stroke-linecap="butt"/>
<path d="M377.3 786.3 L368.7 783.9 L368.7 788.7 Z" fill="#000"/>
<ellipse cx="295.2" cy="666.8" rx="34.5" ry="10.7" fill="url(#eg)"/>
<text x="295.2" y="671.7" font-size="14.6" fill="#2a2a2a" stroke="#2a2a2a" text-anchor="middle">Ir/<tspan fill="#8a17f0" stroke="#8a17f0">Ar</tspan>-H</text>
<ellipse cx="294.6" cy="774" rx="34.7" ry="11" fill="url(#eg)"/>
<text x="294.6" y="778.9" font-size="14.6" fill="#2a2a2a" stroke="#2a2a2a" text-anchor="middle">Ir/<tspan fill="#8a17f0" stroke="#8a17f0">Ar</tspan>-H</text>
<rect x="236.5" y="682.6" width="119.5" height="30.8" rx="7" fill="none" stroke="#777" stroke-width="1.2" stroke-dasharray="3.6 2.6"/>
<text x="237.5" y="707.9" font-size="14.8" fill="#7d7d7d" stroke="#7d7d7d">Cy<tspan font-size="10.5" baseline-shift="-3.2">2</tspan>P</text>
<polyline points="275,698.8 287.1,691.7 305.4,701.8 316.5,695.7" fill="none" stroke="#8a8a8a" stroke-width="1.2" stroke-linejoin="round" stroke-linecap="butt"/>
<text x="318.5" y="696.7" font-size="14.8" fill="#7d7d7d" stroke="#7d7d7d">PCy<tspan font-size="10.5" baseline-shift="-3.2">2</tspan></text>
<text x="292.2" y="727.1" font-size="14.8" fill="#ff1a1a" stroke="#ff1a1a" text-anchor="middle">dcpe</text>
<text x="296" y="802.7" font-size="14.8" fill="#1a1aff" stroke="#1a1aff" text-anchor="middle">DTBM-SegPhos</text>
<polyline points="409.2,677.4 432,690.2" fill="none" stroke="#333" stroke-width="1.2" stroke-linejoin="round" stroke-linecap="butt"/>
<ellipse cx="441.78" cy="685.8" rx="13.51" ry="4" fill="#96c6f4" transform="rotate(-26.92 441.78 685.8)" filter="url(#blur)"/>
<polyline points="432,690.2 451.1,680.5" fill="none" stroke="#333" stroke-width="1.2" stroke-linejoin="round" stroke-linecap="butt"/>
<polyline points="451.1,680.5 468.8,690.5 488.5,680.5 506.8,691.4" fill="none" stroke="#333" stroke-width="1.2" stroke-linejoin="round" stroke-linecap="butt"/>
<polyline points="488.5,680.5 488.5,667" fill="none" stroke="#333" stroke-width="1.2" stroke-linejoin="round" stroke-linecap="butt"/>
<path d="M464.9 684.7 Q459.7 691.2 464.9 697.7" fill="none" stroke="#333" stroke-width="1.1"/>
<path d="M472.7 684.7 Q477.9 691.2 472.7 697.7" fill="none" stroke="#333" stroke-width="1.1"/>
<text x="476.2" y="698.4" font-size="10.5" fill="#333" stroke="#333">n</text>
<text x="483.8" y="664.6" font-size="14.8" fill="#8a17f0" stroke="#8a17f0">Ar</text>
<polyline points="397.7,778.9 418.5,792.7" fill="none" stroke="#333" stroke-width="1.2" stroke-linejoin="round" stroke-linecap="butt"/>
<ellipse cx="429.26" cy="788.15" rx="14.47" ry="4" fill="#96c6f4" transform="rotate(-25.36 429.26 788.15)" filter="url(#blur)"/>
<polyline points="418.5,792.7 439.6,782.7" fill="none" stroke="#333" stroke-width="1.2" stroke-linejoin="round" stroke-linecap="butt"/>
<polyline points="439.6,782.7 458,793.4 477.2,782.7 495.4,793.6 505.6,787.4" fill="none" stroke="#333" stroke-width="1.2" stroke-linejoin="round" stroke-linecap="butt"/>
<path d="M454.1 787.6 Q448.9 794.1 454.1 800.6" fill="none" stroke="#333" stroke-width="1.1"/>
<path d="M461.9 787.6 Q467.1 794.1 461.9 800.6" fill="none" stroke="#333" stroke-width="1.1"/>
<text x="465.4" y="801.3" font-size="10.5" fill="#333" stroke="#333">n</text>
<text x="509.3" y="788.6" font-size="14.8" fill="#8a17f0" stroke="#8a17f0">Ar</text>
<rect x="534.3" y="651.1" width="176.3" height="156.2" rx="9" fill="none" stroke="#777" stroke-width="1.2" stroke-dasharray="3.6 2.6"/>
<polyline points="619.8,657 639.5,668.6 639.5,688.7 619.8,700.3 601.6,688.7 601.6,668.6 619.8,657" fill="none" stroke="#999" stroke-width="1.2" stroke-linejoin="round" stroke-linecap="butt"/>
<polyline points="621.45,662.67 633.74,669.91" fill="none" stroke="#999" stroke-width="1.2" stroke-linejoin="round" stroke-linecap="butt"/>
<polyline points="633.74,687.39 621.45,694.63" fill="none" stroke="#999" stroke-width="1.2" stroke-linejoin="round" stroke-linecap="butt"/>
<polyline points="605.71,684.92 605.71,672.38" fill="none" stroke="#999" stroke-width="1.2" stroke-linejoin="round" stroke-linecap="butt"/>
<polyline points="619.8,721.5 639.5,733.02 639.5,752.98 619.8,764.5 601.6,752.98 601.6,733.02 619.8,721.5" fill="none" stroke="#999" stroke-width="1.2" stroke-linejoin="round" stroke-linecap="butt"/>
<polyline points="635.28,736.77 635.28,749.23" fill="none" stroke="#999" stroke-width="1.2" stroke-linejoin="round" stroke-linecap="butt"/>
<polyline points="618.49,758.87 607.13,751.68" fill="none" stroke="#999" stroke-width="1.2" stroke-linejoin="round" stroke-linecap="butt"/>
<polyline points="607.13,734.32 618.49,727.13" fill="none" stroke="#999" stroke-width="1.2" stroke-linejoin="round" stroke-linecap="butt"/>
<polyline points="619.8,700.3 619.8,721.5" fill="none" stroke="#999" stroke-width="1.2" stroke-linejoin="round" stroke-linecap="butt"/>
<polyline points="587.7,664.6 601.6,668.6" fill="none" stroke="#999" stroke-width="1.2" stroke-linejoin="round" stroke-linecap="butt"/>
<polyline points="587.7,694.4 601.6,688.7" fill="none" stroke="#999" stroke-width="1.2" stroke-linejoin="round" stroke-linecap="butt"/>
<polyline points="576.8,667.5 568.5,679.2 576.8,690.8" fill="none" stroke="#999" stroke-width="1.2" stroke-linejoin="round" stroke-linecap="butt"/>
<polyline points="587.7,728.8 601.6,733.02" fill="none" stroke="#999" stroke-width="1.2" stroke-linejoin="round" stroke-linecap="butt"/>
<polyline points="587.7,758.6 601.6,752.98" fill="none" stroke="#999" stroke-width="1.2" stroke-linejoin="round" stroke-linecap="butt"/>
<polyline points="576.8,731.7 568.5,743.4 576.8,755" fill="none" stroke="#999" stroke-width="1.2" stroke-linejoin="round" stroke-linecap="butt"/>
<text x="581.2" y="667.5" font-size="14.8" fill="#7d7d7d" stroke="#7d7d7d" text-anchor="middle">O</text>
<text x="581.2" y="701.5" font-size="14.8" fill="#7d7d7d" stroke="#7d7d7d" text-anchor="middle">O</text>
<text x="581.2" y="731.7" font-size="14.8" fill="#7d7d7d" stroke="#7d7d7d" text-anchor="middle">O</text>
<text x="581.2" y="766" font-size="14.8" fill="#7d7d7d" stroke="#7d7d7d" text-anchor="middle">O</text>
<polyline points="639.5,688.7 651.2,696.4" fill="none" stroke="#999" stroke-width="1.2" stroke-linejoin="round" stroke-linecap="butt"/>
<polyline points="639.5,733.02 651.2,726.6" fill="none" stroke="#999" stroke-width="1.2" stroke-linejoin="round" stroke-linecap="butt"/>
<text x="653" y="705.4" font-size="14.8" fill="#7d7d7d" stroke="#7d7d7d">PAr<tspan font-size="10.5" baseline-shift="-3.2">2</tspan></text>
<text x="653" y="729.7" font-size="14.8" fill="#7d7d7d" stroke="#7d7d7d">PAr<tspan font-size="10.5" baseline-shift="-3.2">2</tspan></text>
<text x="538.3" y="781.4" font-size="14.8" fill="#7d7d7d" stroke="#7d7d7d">Ar = 3,5-<tspan font-size="10.5" baseline-shift="5"><tspan font-style="italic">t</tspan></tspan>Bu<tspan font-size="10.5" baseline-shift="-3.2">2</tspan>-4-MeOC<tspan font-size="10.5" baseline-shift="-3.2">6</tspan>H<tspan font-size="10.5" baseline-shift="-3.2">2</tspan></text>
<text x="622.5" y="802.8" font-size="14.8" fill="#1a1aff" stroke="#1a1aff" text-anchor="middle">DTBM-SegPhos</text>
<rect x="717.6" y="653.8" width="216.2" height="151.4" fill="#f5faff"/>
<rect x="717.6" y="653.8" width="216.2" height="151.4" fill="url(#bgh)"/>
<rect x="717.6" y="653.8" width="216.2" height="151.4" fill="url(#bgv)"/>
<rect x="723.5" y="666.4" width="11.4" height="10.6" fill="#f2f2f2" stroke="#8a8a8a" stroke-width="1"/>
<path d="M725.4 672.6 L728.6 675.7 L733.2 667.3" fill="none" stroke="#ff10ff" stroke-width="2.5" stroke-linecap="round" stroke-linejoin="round"/>
<text x="740.9" y="676.5" font-size="14.8" fill="#2a2a2a" stroke="#2a2a2a">Internal unactivated alkenes</text>
<rect x="723.5" y="696" width="11.4" height="10.6" fill="#f2f2f2" stroke="#8a8a8a" stroke-width="1"/>
<path d="M725.4 702.2 L728.6 705.3 L733.2 696.9" fill="none" stroke="#ff10ff" stroke-width="2.5" stroke-linecap="round" stroke-linejoin="round"/>
<text x="740.9" y="706.1" font-size="14.8" fill="#2a2a2a" stroke="#2a2a2a">Activated alkenes</text>
<rect x="723.5" y="725.6" width="11.4" height="10.6" fill="#f2f2f2" stroke="#8a8a8a" stroke-width="1"/>
<path d="M725.4 731.8 L728.6 734.9 L733.2 726.5" fill="none" stroke="#ff10ff" stroke-width="2.5" stroke-linecap="round" stroke-linejoin="round"/>
<text x="740.9" y="735.7" font-size="14.8" fill="#2a2a2a" stroke="#2a2a2a">Regioconvergence</text>
<rect x="723.5" y="756" width="11.4" height="10.6" fill="#f2f2f2" stroke="#8a8a8a" stroke-width="1"/>
<path d="M725.4 762.2 L728.6 765.3 L733.2 756.9" fill="none" stroke="#ff10ff" stroke-width="2.5" stroke-linecap="round" stroke-linejoin="round"/>
<text x="740.9" y="766.1" font-size="14.8" fill="#2a2a2a" stroke="#2a2a2a">Site-selectivity</text>
<rect x="723.5" y="784.8" width="11.4" height="10.6" fill="#f2f2f2" stroke="#8a8a8a" stroke-width="1"/>
<path d="M725.4 791 L728.6 794.1 L733.2 785.7" fill="none" stroke="#ff10ff" stroke-width="2.5" stroke-linecap="round" stroke-linejoin="round"/>
<text x="740.9" y="794.9" font-size="14.8" fill="#2a2a2a" stroke="#2a2a2a">Mechanistic studies</text>
<circle cx="82.4" cy="56.3" r="9.2" fill="#bfbfbf"/>
<circle cx="479.8" cy="55.8" r="9.2" fill="#bfbfbf"/>
<circle cx="577.5" cy="69.3" r="5.4" fill="#0000ff"/>
<circle cx="674.6" cy="62.6" r="9.2" fill="#bfbfbf"/>
<circle cx="753.4" cy="66.7" r="5.4" fill="#ff0000"/>
<circle cx="81.4" cy="144.9" r="9.2" fill="#bfbfbf"/>
<circle cx="160.5" cy="148.5" r="5.4" fill="#ff0000"/>
<circle cx="179" cy="159.2" r="5.4" fill="#0000ff"/>
<circle cx="479.7" cy="145.2" r="9.2" fill="#bfbfbf"/>
<circle cx="577.6" cy="159.2" r="5.4" fill="#0000ff"/>
<circle cx="72.8" cy="268" r="9.2" fill="#bfbfbf"/>
<circle cx="151.8" cy="271" r="5.4" fill="#ff0000"/>
<circle cx="171" cy="282" r="5.4" fill="#0000ff"/>
<circle cx="607.8" cy="265" r="9.2" fill="#bfbfbf"/>
<circle cx="686.9" cy="269.4" r="5.4" fill="#ff0000"/>
<circle cx="752.1" cy="265" r="9.2" fill="#bfbfbf"/>
<circle cx="849.3" cy="279.3" r="5.4" fill="#0000ff"/>
<circle cx="66.3" cy="410.7" r="9.2" fill="#bfbfbf"/>
<circle cx="378.7" cy="407.9" r="9.2" fill="#bfbfbf"/>
<circle cx="689.6" cy="404.6" r="9.2" fill="#bfbfbf"/>
<circle cx="61.9" cy="553.3" r="9.2" fill="#bfbfbf"/>
<circle cx="277.4" cy="554.9" r="9.2" fill="#bfbfbf"/>
<circle cx="488.3" cy="554.4" r="9.2" fill="#bfbfbf"/>
<circle cx="688.2" cy="556" r="9.2" fill="#bfbfbf"/>
<circle cx="62.3" cy="719.5" r="9.2" fill="#bfbfbf"/>
<circle cx="141.3" cy="723" r="5.4" fill="#ff0000"/>
<circle cx="159.6" cy="733.7" r="5.4" fill="#0000ff"/>
<circle cx="409.2" cy="677.4" r="9.2" fill="#bfbfbf"/>
<circle cx="488.5" cy="680.5" r="5.4" fill="#ff0000"/>
<circle cx="397.7" cy="778.9" r="9.2" fill="#bfbfbf"/>
<circle cx="495.4" cy="793.6" r="5.4" fill="#0000ff"/>
</svg>
</body></html>
